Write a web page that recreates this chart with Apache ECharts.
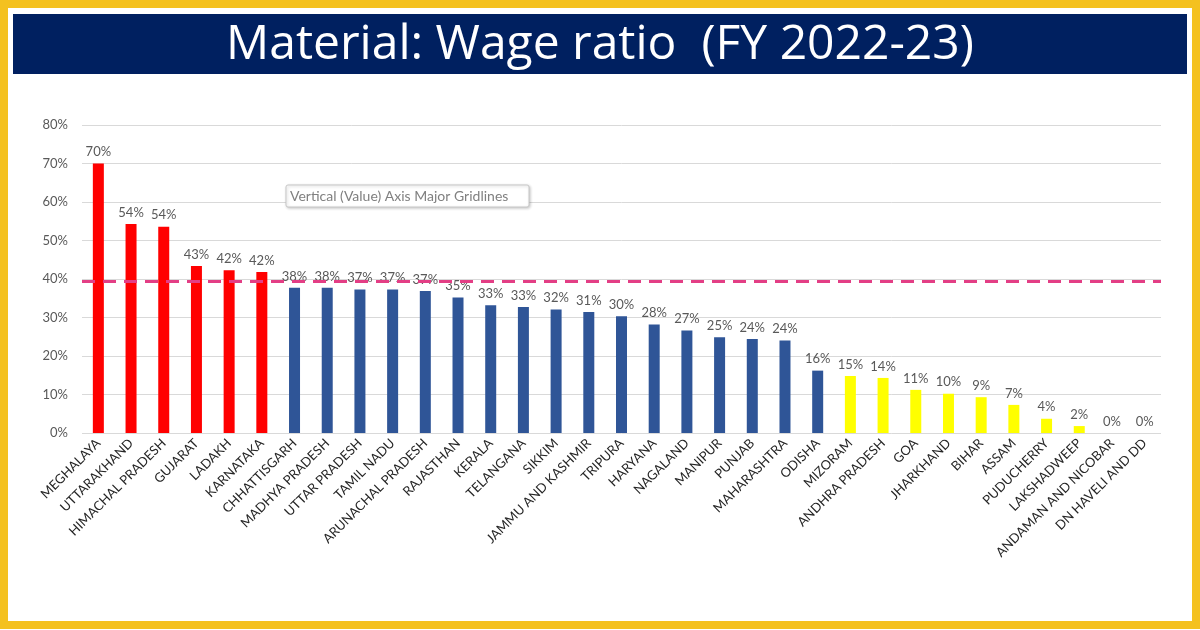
<!DOCTYPE html>
<html>
<head>
<meta charset="utf-8">
<script src="https://cdn.jsdelivr.net/npm/echarts@6/dist/echarts.min.js"></script>
<style>
html,body{margin:0;padding:0;background:#fff;}
#chart{width:1200px;height:630px;}
</style>
</head>
<body>
<div id="chart"></div>
<script>
const titleText = 'Material: Wage ratio  (FY 2022-23)';
const categories = ['MEGHALAYA','UTTARAKHAND','HIMACHAL PRADESH','GUJARAT','LADAKH','KARNATAKA',
  'CHHATTISGARH','MADHYA PRADESH','UTTAR PRADESH','TAMIL NADU','ARUNACHAL PRADESH','RAJASTHAN',
  'KERALA','TELANGANA','SIKKIM','JAMMU AND KASHMIR','TRIPURA','HARYANA','NAGALAND','MANIPUR',
  'PUNJAB','MAHARASHTRA','ODISHA','MIZORAM','ANDHRA PRADESH','GOA','JHARKHAND','BIHAR','ASSAM',
  'PUDUCHERRY','LAKSHADWEEP','ANDAMAN AND NICOBAR','DN HAVELI AND DD'];
const values = [70.0,54.3,53.6,43.4,42.3,41.8,
  37.7,37.7,37.3,37.3,36.9,35.2,
  33.2,32.7,32.1,31.4,30.3,28.2,26.6,24.9,
  24.4,24.0,16.2,14.8,14.3,11.2,10.2,9.3,7.3,
  3.7,1.8,0,0];
const groups = ['high','high','high','high','high','high',
  'mid','mid','mid','mid','mid','mid','mid','mid','mid','mid','mid','mid','mid','mid','mid','mid','mid',
  'low','low','low','low','low','low','low','low','low','low'];
const groupColors = {high:'#FF0000', mid:'#2F5597', low:'#FFFF00'};
const referenceLine = 39.5;
const yTicks = [0,10,20,30,40,50,60,70,80];

const chart = echarts.init(document.getElementById('chart'));
const font = 'Lato, "Open Sans", sans-serif';
chart.setOption({
  animation:false,
  backgroundColor:'#ffffff',
  graphic:[
    {type:'rect', shape:{x:4,y:4,width:1192,height:621}, style:{fill:'none', stroke:'#F4C11F', lineWidth:8}, z:0},
    {type:'rect', shape:{x:13,y:14,width:1174,height:60}, style:{fill:'#002060'}, z:1},
    {type:'text', x:600, y:45, style:{text:titleText, fill:'#ffffff', font:'48px "Open Sans", sans-serif', textAlign:'center', textVerticalAlign:'middle'}, z:2},
    {type:'rect', shape:{x:286,y:185,width:243,height:22,r:2}, style:{fill:'#ffffff', stroke:'#C8C8C8', lineWidth:1, shadowBlur:3, shadowColor:'rgba(0,0,0,0.2)', shadowOffsetX:1, shadowOffsetY:1}, z:10},
    {type:'text', x:290, y:196, style:{text:'Vertical (Value) Axis Major Gridlines', fill:'#808080', font:'14px '+font, textVerticalAlign:'middle'}, z:11}
  ],
  grid:{left:82, right:39, top:125, bottom:197, containLabel:false},
  xAxis:{
    type:'category', data:categories,
    axisLine:{show:false}, axisTick:{show:false},
    axisLabel:{interval:0, rotate:45, color:'#262626', fontSize:13, fontFamily:font, margin:8}
  },
  yAxis:{
    type:'value', min:yTicks[0], max:yTicks[yTicks.length-1], interval:10,
    axisLine:{show:false}, axisTick:{show:false},
    axisLabel:{formatter:'{value}%', color:'#595959', fontSize:13, fontFamily:font, margin:14},
    splitLine:{lineStyle:{color:'#D9D9D9', width:1}}
  },
  series:[{
    type:'bar', barWidth:11,
    data:values.map((v,i)=>({value:v, itemStyle:{color:groupColors[groups[i]]}})),
    label:{show:true, position:'top', distance:5, color:'#595959', fontSize:13, fontFamily:font,
      formatter:p=>Math.round(p.value)+'%'},
    markLine:{
      silent:true, symbol:'none', label:{show:false},
      lineStyle:{color:'#E33E85', width:3, type:[13,8]},
      data:[{yAxis:referenceLine}]
    }
  }]
});
</script>
</body>
</html>
